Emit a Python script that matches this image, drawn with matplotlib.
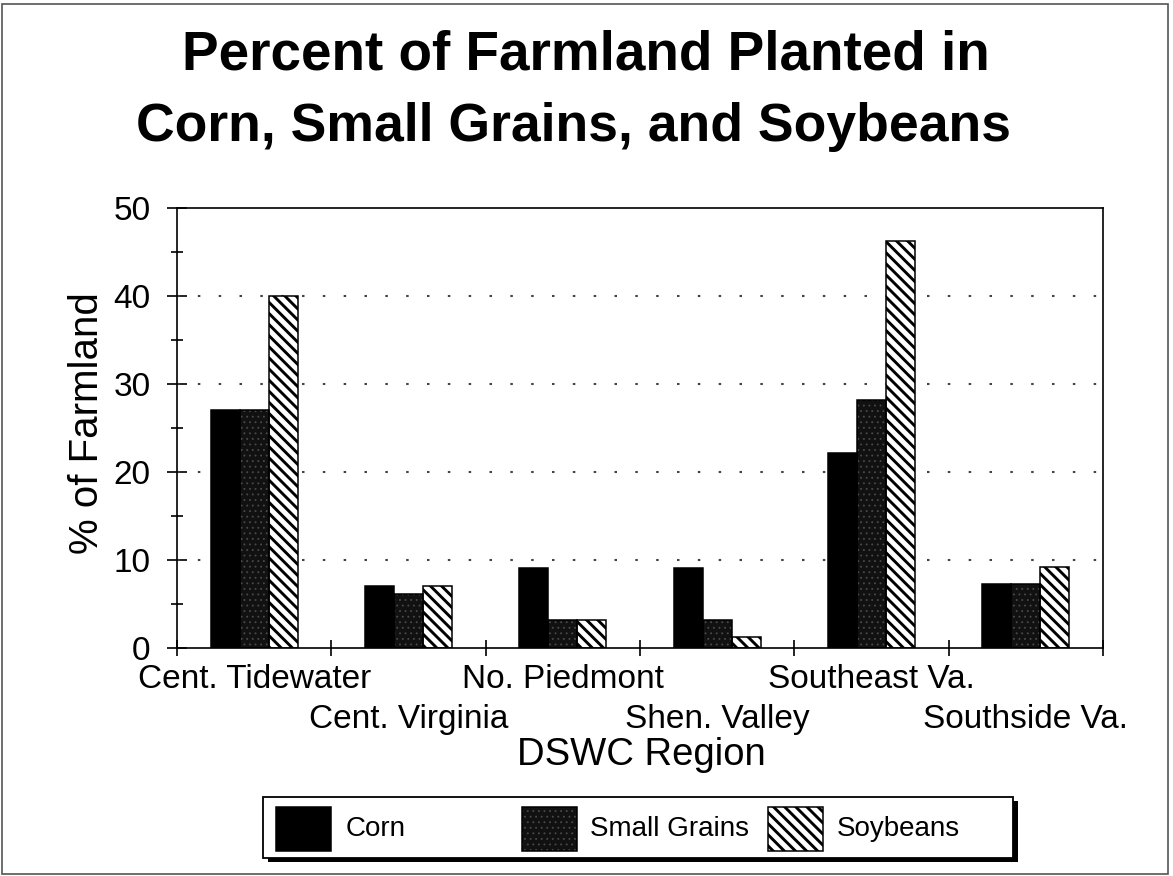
import matplotlib
matplotlib.use("Agg")
import matplotlib.pyplot as plt
from matplotlib.patches import Rectangle
import numpy as np

# ---- data -------------------------------------------------------------
regions = ["Cent. Tidewater", "Cent. Virginia", "No. Piedmont",
           "Shen. Valley", "Southeast Va.", "Southside Va."]
corn = [27.0, 7.0, 9.1, 9.1, 22.2, 7.3]
small_grains = [27.0, 6.1, 3.2, 3.2, 28.2, 7.3]
soybeans = [40.0, 7.1, 3.2, 1.2, 46.2, 9.2]
series_names = ["Corn", "Small Grains", "Soybeans"]
y_ticks = [0, 10, 20, 30, 40, 50]
y_minor = [5, 15, 25, 35, 45]

title_lines = ["Percent of Farmland Planted in",
               "Corn, Small Grains, and Soybeans"]
x_label = "DSWC Region"
y_label = "% of Farmland"

# ---- styling ----------------------------------------------------------
plt.rcParams["font.family"] = ["Liberation Sans", "DejaVu Sans"]

styles = [
    dict(face="black", hatch=None, hcolor="black", hlw=1.0),
    dict(face="#111111", hatch="...", hcolor="#4a4a4a", hlw=0.6),
    dict(face="white", hatch="\\\\\\", hcolor="black", hlw=2.1),
]

W, H = 1173, 876
fig = plt.figure(figsize=(W / 100, H / 100), dpi=100)


def fx(px):
    return px / W


def fy(py):
    return 1 - py / H


ax = fig.add_axes([fx(177), fy(648), fx(1103) - fx(177), fy(208) - fy(648)])


def styled_patch_kwargs(st):
    return dict(facecolor=st["face"], edgecolor=st["hcolor"],
                hatch=st["hatch"], linewidth=0)


def apply_hatch_lw(patches, lw):
    for p in patches:
        if hasattr(p, "set_hatch_linewidth"):
            p.set_hatch_linewidth(lw)


x = np.arange(len(regions))
bw = 0.188
for i, (vals, st) in enumerate(zip([corn, small_grains, soybeans], styles)):
    pos = x + (i - 1) * bw
    with plt.rc_context({"hatch.linewidth": st["hlw"]}):
        fill = ax.bar(pos, vals, bw, zorder=2, **styled_patch_kwargs(st))
    apply_hatch_lw(fill.patches, st["hlw"])
    ax.bar(pos, vals, bw, facecolor="none", edgecolor="black",
           linewidth=1.1, zorder=3)

ax.set_xlim(-0.5, len(regions) - 0.5)
ax.set_ylim(0, 50)

# y axis ticks
ax.set_yticks(y_ticks)
ax.set_yticklabels([str(t) for t in y_ticks], fontsize=24)
ax.set_yticks(y_minor, minor=True)
ax.tick_params(axis="y", which="major", direction="inout", length=14,
               width=1.2, pad=12)
ax.tick_params(axis="y", which="minor", direction="inout", length=8,
               width=1.2)
ax.tick_params(axis="y", which="both", right=False)

# x axis: labels at group centres (two staggered rows), ticks at boundaries
ax.set_xticks(x)
ax.set_xticklabels(regions, fontsize=24)
ax.set_xticks(np.arange(len(regions) + 1) - 0.5, minor=True)
ax.tick_params(axis="x", which="major", length=0, pad=11.5)
ax.tick_params(axis="x", which="minor", direction="inout", length=12,
               width=1.2)
for i, tick in enumerate(ax.xaxis.get_major_ticks()):
    if i % 2 == 1:
        tick.set_pad(40)

# dotted grid
ax.set_axisbelow(True)
for t in y_ticks[1:-1]:
    ax.axhline(t, color="#444444", linewidth=1.5,
               linestyle=(0, (1.2, 8.8)), zorder=1)

for s in ax.spines.values():
    s.set_linewidth(1.2)

# titles and axis labels
fig.text(fx(586), fy(70), title_lines[0], fontsize=39.5, fontweight="bold",
         ha="center", va="baseline")
fig.text(fx(573), fy(141), title_lines[1], fontsize=38.5, fontweight="bold",
         ha="center", va="baseline")
fig.text(fx(641), fy(765), x_label, fontsize=27.5, ha="center",
         va="baseline")
fig.text(fx(87), fy(423), y_label, fontsize=29, ha="center", va="center",
         rotation=90)

# legend box with drop shadow
shadow = Rectangle((fx(268), fy(862)), fx(1018) - fx(268), fy(801) - fy(862),
                   transform=fig.transFigure, facecolor="black",
                   edgecolor="black", linewidth=0)
box = Rectangle((fx(263), fy(858)), fx(1013) - fx(263), fy(797) - fy(858),
                transform=fig.transFigure, facecolor="white",
                edgecolor="black", linewidth=1.3)
fig.add_artist(shadow)
fig.add_artist(box)

handle_x = [276, 522, 768]
text_x = [346, 590, 837]
for name, st, hx, tx in zip(series_names, styles, handle_x, text_x):
    with plt.rc_context({"hatch.linewidth": st["hlw"]}):
        h = Rectangle((fx(hx), fy(851)), fx(hx + 55) - fx(hx),
                      fy(807) - fy(851), transform=fig.transFigure,
                      **styled_patch_kwargs(st))
    apply_hatch_lw([h], st["hlw"])
    fig.add_artist(h)
    fig.add_artist(Rectangle((fx(hx), fy(851)), fx(hx + 55) - fx(hx),
                             fy(807) - fy(851), transform=fig.transFigure,
                             facecolor="none", edgecolor="black",
                             linewidth=1.1))
    fig.text(fx(tx), fy(829), name, fontsize=20, ha="left", va="center")

# outer page frame
fig.add_artist(Rectangle((fx(2), fy(874)), fx(1168) - fx(2), fy(4) - fy(874),
                         transform=fig.transFigure, facecolor="none",
                         edgecolor="#555555", linewidth=1.2))

fig.savefig("out.png", dpi=100)
